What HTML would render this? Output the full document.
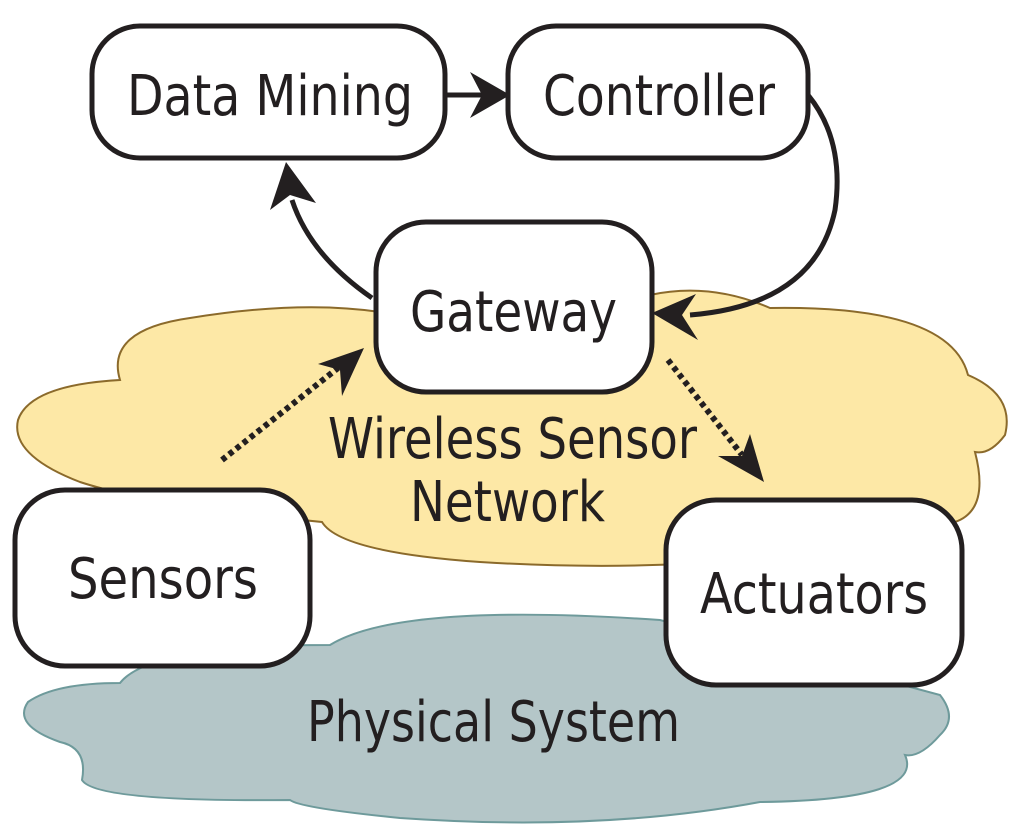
<!DOCTYPE html>
<html><head><meta charset="utf-8"><style>
html,body{margin:0;padding:0;background:#fff;width:1024px;height:835px;overflow:hidden}
text{font-family:"DejaVu Sans","Liberation Sans",sans-serif;font-size:56px;fill:#231f20}
</style></head><body>
<svg width="1024" height="835" viewBox="0 0 1024 835" xmlns="http://www.w3.org/2000/svg">
<!-- yellow cloud -->
<path d="M120,380 Q105,330 190,318 Q300,300 380,312 L650,295 Q710,282 770,308 Q950,305 968,375 Q1015,395 1005,435 Q990,455 975,452 Q990,510 955,522 Q900,562 790,556 Q640,572 480,562 Q340,552 322,522 Q150,505 80,482 Q10,455 18,420 Q30,385 120,380 Z" fill="#fde8a6" stroke="#8b6a2b" stroke-width="2"/>
<!-- gray cloud -->
<path d="M120,683 Q150,645 330,645 Q400,602 660,620 L940,695 Q958,718 940,735 Q920,758 905,755 Q925,800 760,802 Q600,832 400,818 Q300,808 290,800 Q95,802 82,780 Q88,748 60,742 Q12,725 28,702 Q55,683 120,683 Z" fill="#b4c6c8" stroke="#6e9a9b" stroke-width="2"/>
<g stroke="#231f20" stroke-width="5" fill="none">
<line x1="447" y1="95" x2="485" y2="95"/>
<path d="M808,95 Q845,140 835,210 Q815,305 690,315"/>
<path d="M372,298 Q310,255 292,200"/>
<line x1="222" y1="460" x2="338" y2="368" stroke-width="6" stroke-dasharray="5,4"/>
<line x1="668" y1="360" x2="742" y2="455" stroke-width="6" stroke-dasharray="5,4"/>
</g>
<g fill="#231f20">
<polygon points="510,95 470,72 482,95 470,118"/>
<polygon points="652,313 696,294 682,315 698,340"/>
<polygon points="286,162 270,210 290,195 316,203"/>
<polygon points="364,348 318,364 340,370 342,396"/>
<polygon points="764,482 750,434 742,456 718,456"/>
</g>
<g fill="#fff" stroke="#231f20" stroke-width="5">
<rect x="92" y="26" width="353" height="132" rx="48"/>
<rect x="508" y="26" width="300" height="132" rx="48"/>
<rect x="376" y="222" width="276" height="170" rx="50"/>
<rect x="15" y="490" width="295" height="176" rx="50"/>
<rect x="666" y="500" width="296" height="185" rx="50"/>
</g>
<text x="127" y="115" textLength="286" lengthAdjust="spacingAndGlyphs">Data Mining</text>
<text x="543" y="115" textLength="232" lengthAdjust="spacingAndGlyphs">Controller</text>
<text x="410" y="331" textLength="207" lengthAdjust="spacingAndGlyphs">Gateway</text>
<text x="328" y="458" textLength="369" lengthAdjust="spacingAndGlyphs">Wireless Sensor</text>
<text x="410" y="521" textLength="195" lengthAdjust="spacingAndGlyphs">Network</text>
<text x="68" y="598" textLength="190" lengthAdjust="spacingAndGlyphs">Sensors</text>
<text x="700" y="613" textLength="228" lengthAdjust="spacingAndGlyphs">Actuators</text>
<text x="307" y="741" textLength="373" lengthAdjust="spacingAndGlyphs">Physical System</text>
</svg>
</body></html>
